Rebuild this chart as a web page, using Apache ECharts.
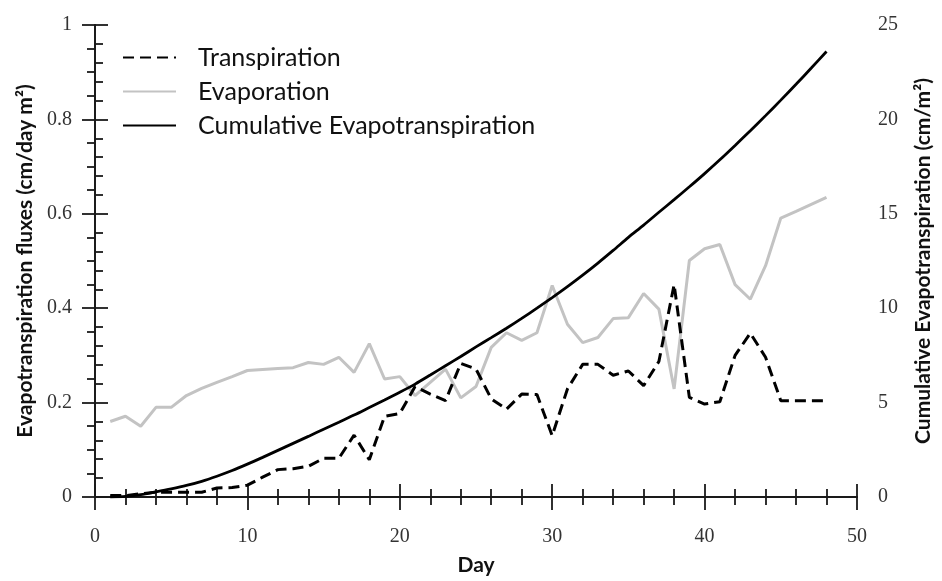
<!DOCTYPE html>
<html>
<head>
<meta charset="utf-8">
<script src="https://cdn.jsdelivr.net/npm/echarts@6/dist/echarts.min.js"></script>
<style>html,body{margin:0;padding:0;background:#fff;}#c{width:942px;height:581px;}</style>
</head>
<body>
<div id="c"></div>
<script>
const days = [1,2,3,4,5,6,7,8,9,10,11,12,13,14,15,16,17,18,19,20,21,22,23,24,25,26,27,28,29,30,31,32,33,34,35,36,37,38,39,40,41,42,43,44,45,46,47,48];
const transpiration = [0.003,0.003,0.007,0.01,0.01,0.01,0.01,0.019,0.02,0.025,0.042,0.058,0.06,0.065,0.082,0.082,0.131,0.079,0.171,0.177,0.234,0.218,0.204,0.283,0.271,0.208,0.186,0.218,0.217,0.13,0.229,0.281,0.281,0.258,0.267,0.236,0.287,0.45,0.211,0.197,0.202,0.3,0.347,0.296,0.204,0.204,0.204,0.204];
const evaporation = [0.16,0.171,0.15,0.19,0.19,0.215,0.23,0.243,0.255,0.268,0.27,0.272,0.274,0.285,0.281,0.296,0.264,0.325,0.25,0.255,0.215,0.243,0.271,0.21,0.234,0.317,0.348,0.332,0.348,0.448,0.366,0.327,0.338,0.378,0.38,0.431,0.398,0.229,0.501,0.526,0.535,0.45,0.419,0.49,0.591,0.605,0.62,0.635];
const cumulative = [0,0.03,0.12,0.27,0.43,0.61,0.83,1.1,1.4,1.74,2.1,2.47,2.84,3.21,3.59,3.96,4.34,4.74,5.14,5.55,5.98,6.46,6.95,7.44,7.95,8.44,8.94,9.46,10.0,10.56,11.14,11.75,12.39,13.06,13.75,14.4,15.08,15.75,16.43,17.13,17.86,18.62,19.4,20.2,21.02,21.86,22.72,23.6];
const seriesNames = ['Transpiration','Evaporation','Cumulative Evapotranspiration'];
const xTitle = 'Day';
const yLeftTitle = 'Evapotranspiration fluxes (cm/day m\u00B2)';
const yRightTitle = 'Cumulative Evapotranspiration (cm/m\u00B2)';

const pair = arr => days.map((d, i) => [d, arr[i]]);
const axisColor = '#1a1a1a';
const labelFont = {fontFamily: 'Liberation Serif', fontSize: 20, color: '#333'};
const titleFont = {fontFamily: 'Lato', fontWeight: 'bold', fontSize: 21, color: '#111'};
const lineAx = {show: true, lineStyle: {color: axisColor, width: 1.8}};
const tickAx = {show: true, inside: false, length: 13, lineStyle: {color: axisColor, width: 1.8}};
const minorAx = n => ({show: true, splitNumber: n, length: 8, lineStyle: {color: axisColor, width: 1.8}});

const chart = echarts.init(document.getElementById('c'), null, {renderer: 'canvas'});
chart.setOption({
  animation: false,
  backgroundColor: '#fff',
  grid: {left: 95, right: 81, top: 25, bottom: 83, containLabel: false},
  legend: {
    orient: 'vertical', left: 117, top: 40, itemWidth: 53, itemHeight: 14, itemGap: 9,
    data: seriesNames,
    itemStyle: {opacity: 0},
    textStyle: {fontFamily: 'Lato', fontSize: 25, color: '#111', padding: [0, 0, 0, 17]}
  },
  xAxis: [
    {type: 'value', min: 0, max: 50, interval: 10, position: 'bottom',
     axisLine: lineAx, axisTick: tickAx, minorTick: minorAx(5), splitLine: {show: false}, minorSplitLine: {show: false},
     axisLabel: Object.assign({margin: 30}, labelFont),
     name: xTitle, nameLocation: 'middle', nameGap: 58, nameTextStyle: titleFont},
    {type: 'value', min: 0, max: 50, interval: 10, position: 'top',
     axisLine: lineAx, axisTick: tickAx, minorTick: minorAx(5), splitLine: {show: false},
     axisLabel: {show: false}}
  ],
  yAxis: [
    {type: 'value', min: 0, max: 1, interval: 0.2, position: 'left',
     axisLine: lineAx, axisTick: tickAx, minorTick: minorAx(4), splitLine: {show: false},
     axisLabel: Object.assign({margin: 23}, labelFont),
     name: yLeftTitle, nameLocation: 'middle', nameGap: 56, nameRotate: 90, nameTextStyle: titleFont},
    {type: 'value', min: 0, max: 25, interval: 5, position: 'right',
     axisLine: lineAx, axisTick: tickAx, minorTick: minorAx(5), splitLine: {show: false},
     axisLabel: Object.assign({margin: 21}, labelFont),
     name: yRightTitle, nameLocation: 'middle', nameGap: 56, nameRotate: 90, nameTextStyle: titleFont}
  ],
  series: [
    {name: seriesNames[0], type: 'line', data: pair(transpiration), xAxisIndex: 0, yAxisIndex: 0,
     symbol: 'none', lineStyle: {color: '#000', width: 3, type: [11, 6]}, itemStyle: {color: '#000'}, z: 4},
    {name: seriesNames[1], type: 'line', data: pair(evaporation), xAxisIndex: 0, yAxisIndex: 0,
     symbol: 'none', lineStyle: {color: '#c3c3c3', width: 3}, itemStyle: {color: '#c3c3c3'}, z: 2},
    {name: seriesNames[2], type: 'line', data: pair(cumulative), xAxisIndex: 0, yAxisIndex: 1,
     symbol: 'none', smooth: 0.3, lineStyle: {color: '#000', width: 2.8}, itemStyle: {color: '#000'}, z: 3}
  ]
});
</script>
</body>
</html>
